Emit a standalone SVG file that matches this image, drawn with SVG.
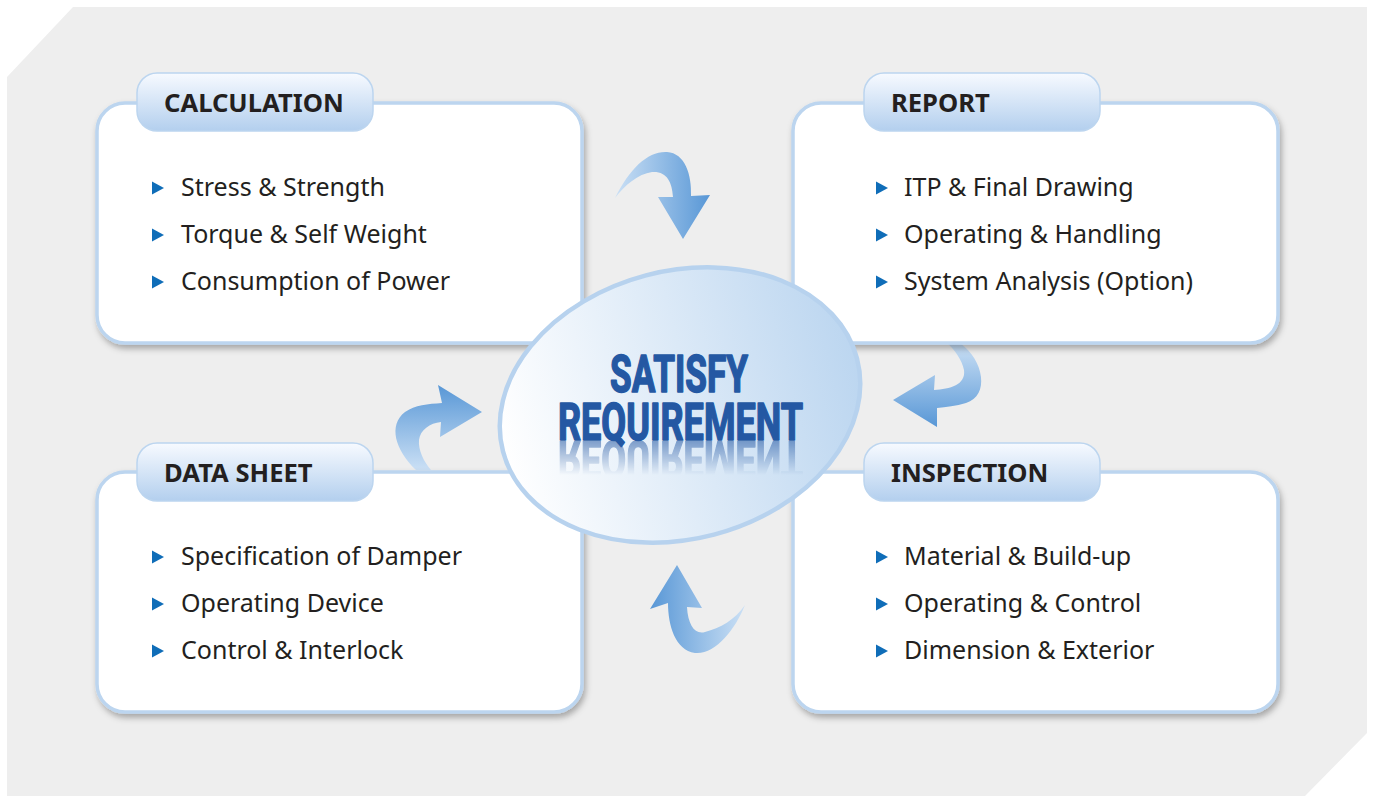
<svg xmlns="http://www.w3.org/2000/svg" width="1375" height="796" viewBox="0 0 1375 796">
<defs>
  <style>
    .box{fill:#ffffff;stroke:#bcd5ef;stroke-width:3.5;filter:url(#sh)}
    .tab{fill:url(#tabG);stroke:#bcd5ef;stroke-width:1.5}
    .ttl{font-family:"Noto Sans","Liberation Sans",sans-serif;font-weight:bold;font-size:25.6px;fill:#231f20}
    .itm{font-family:"Noto Sans","Liberation Sans",sans-serif;font-size:25px;fill:#231f20}
    .bul{fill:#0f6db8}
    .big{font-family:Roboto,"Liberation Sans",sans-serif;font-weight:bold;font-size:51px;fill:#2458a3;stroke:#2458a3;stroke-width:1.6;stroke-linejoin:round}
  </style>
  <filter id="sh" x="-10%" y="-10%" width="125%" height="130%">
    <feDropShadow dx="2" dy="4" stdDeviation="3" flood-color="#000" flood-opacity="0.3"/>
  </filter>
  <linearGradient id="tabG" x1="0" y1="0" x2="0" y2="1">
    <stop offset="0" stop-color="#f7faff"/>
    <stop offset="1" stop-color="#b3cfee"/>
  </linearGradient>
  <linearGradient id="ellG" x1="0" y1="0" x2="1" y2="0">
    <stop offset="0" stop-color="#ffffff"/>
    <stop offset="1" stop-color="#bcd6f0"/>
  </linearGradient>
  <linearGradient id="aH" x1="0" y1="0" x2="1" y2="0">
    <stop offset="0" stop-color="#cbe0f5"/>
    <stop offset="1" stop-color="#5897d6"/>
  </linearGradient>
  <linearGradient id="aHr" x1="0" y1="0" x2="1" y2="0">
    <stop offset="0" stop-color="#5897d6"/>
    <stop offset="1" stop-color="#cbe0f5"/>
  </linearGradient>
  <linearGradient id="aV" x1="0" y1="0" x2="0" y2="1">
    <stop offset="0" stop-color="#cbe0f5"/>
    <stop offset="1" stop-color="#5897d6"/>
  </linearGradient>
  <linearGradient id="aVr" x1="0" y1="0" x2="0" y2="1">
    <stop offset="0" stop-color="#5897d6"/>
    <stop offset="1" stop-color="#cbe0f5"/>
  </linearGradient>
  <linearGradient id="refG" x1="0" y1="0" x2="0" y2="1">
    <stop offset="0" stop-color="#fff" stop-opacity="0.55"/>
    <stop offset="1" stop-color="#fff" stop-opacity="0"/>
  </linearGradient>
  <mask id="refM" maskUnits="userSpaceOnUse" x="500" y="438" width="340" height="40">
    <rect x="500" y="441" width="340" height="34" fill="url(#refG)"/>
  </mask>
  <polygon id="bt" points="0,-6.5 12,0 0,6.5"/>
</defs>

<polygon points="73,7 1367,7 1367,733 1305,796 7,796 7,77" fill="#eeeeee"/>

<g id="connectors">
  <path d="M615,198 C630,168 648,151 667,152 C685,153 692,175 691,196 L710,195 L683,239 L658,197 L673,197 C672,182 667,171 652,172 C638,174 625,185 615,198 Z" fill="url(#aH)"/>
  <path d="M947,343 L960,343 C984,360 990,396 966,403 C956,406 946,407 937,408 L937,427 L893,400 L935,375 L934,390 C950,389 966,385 964,370 C962,360 955,350 947,343 Z" fill="url(#aV)"/>
  <path d="M431,470 L416,470 C395,450 388,425 405,412 C415,405 428,404 442,403 L438,385 L482,412 L440,437 L441,422 C430,423 420,430 419,440 C418,450 424,462 431,470 Z" fill="url(#aVr)"/>
  <path d="M677,565 L702,608 L687,607 C688,625 695,635 705,632 C720,628 735,620 745,605 C735,630 715,655 695,653 C675,650 668,625 668,603 L650,609 Z" fill="url(#aHr)"/>
</g>

<g id="calculation">
  <rect class="box" x="97" y="103" width="485" height="240" rx="28"/>
  <rect class="tab" x="137" y="73" width="236" height="58" rx="20"/>
  <text class="ttl" x="164" y="112">CALCULATION</text>
  <use href="#bt" class="bul" x="152" y="188"/>
  <text class="itm" x="181" y="196">Stress &amp; Strength</text>
  <use href="#bt" class="bul" x="152" y="235"/>
  <text class="itm" x="181" y="243">Torque &amp; Self Weight</text>
  <use href="#bt" class="bul" x="152" y="282"/>
  <text class="itm" x="181" y="290">Consumption of Power</text>
</g>

<g id="report">
  <rect class="box" x="793" y="103" width="485" height="240" rx="28"/>
  <rect class="tab" x="864" y="73" width="236" height="58" rx="20"/>
  <text class="ttl" x="891" y="112">REPORT</text>
  <use href="#bt" class="bul" x="876" y="188"/>
  <text class="itm" x="904" y="196">ITP &amp; Final Drawing</text>
  <use href="#bt" class="bul" x="876" y="235"/>
  <text class="itm" x="904" y="243">Operating &amp; Handling</text>
  <use href="#bt" class="bul" x="876" y="282"/>
  <text class="itm" x="904" y="290">System Analysis (Option)</text>
</g>

<g id="datasheet">
  <rect class="box" x="97" y="472" width="485" height="240" rx="28"/>
  <rect class="tab" x="137" y="443" width="236" height="58" rx="20"/>
  <text class="ttl" x="164" y="482">DATA SHEET</text>
  <use href="#bt" class="bul" x="152" y="557"/>
  <text class="itm" x="181" y="565">Specification of Damper</text>
  <use href="#bt" class="bul" x="152" y="604"/>
  <text class="itm" x="181" y="612">Operating Device</text>
  <use href="#bt" class="bul" x="152" y="651"/>
  <text class="itm" x="181" y="659">Control &amp; Interlock</text>
</g>

<g id="inspection">
  <rect class="box" x="793" y="472" width="485" height="240" rx="28"/>
  <rect class="tab" x="864" y="443" width="236" height="58" rx="20"/>
  <text class="ttl" x="891" y="482">INSPECTION</text>
  <use href="#bt" class="bul" x="876" y="557"/>
  <text class="itm" x="904" y="565">Material &amp; Build-up</text>
  <use href="#bt" class="bul" x="876" y="604"/>
  <text class="itm" x="904" y="612">Operating &amp; Control</text>
  <use href="#bt" class="bul" x="876" y="651"/>
  <text class="itm" x="904" y="659">Dimension &amp; Exterior</text>
</g>

<g id="satisfy">
  <ellipse cx="680" cy="405" rx="183" ry="134" transform="rotate(-14.7 680 405)" fill="url(#ellG)" stroke="#b7d2ee" stroke-width="4.5"/>
  <text class="big" x="610" y="392" textLength="138" lengthAdjust="spacingAndGlyphs">SATISFY</text>
  <text class="big" x="558" y="440" textLength="245" lengthAdjust="spacingAndGlyphs">REQUIREMENT</text>
  <g mask="url(#refM)">
    <text class="big" x="558" y="-441" textLength="245" lengthAdjust="spacingAndGlyphs" transform="scale(1,-1)">REQUIREMENT</text>
  </g>
</g>
</svg>
